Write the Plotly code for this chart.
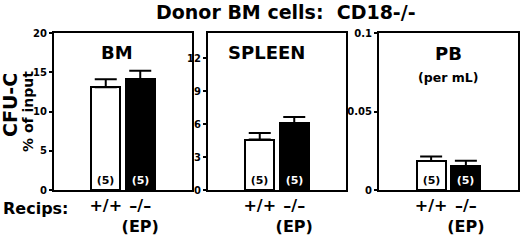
import plotly.graph_objects as go

# ---- data ----
recips = ["+/+", "-/-"]
panel_names = ["BM", "SPLEEN", "PB"]
bm_values = [13.1, 14.1]
bm_errors = [1.0, 1.1]
spleen_values = [4.6, 6.1]
spleen_errors = [0.6, 0.55]
pb_values = [0.0184, 0.0152]
pb_errors = [0.003, 0.0035]
n_labels = ["(5)", "(5)"]
bm_ticks = [0, 5, 10, 15, 20]
spleen_ticks = [0, 3, 6, 9, 12]
pb_ticks = [0, 0.05, 0.1]
pb_ticktext = ["0", "0.05", "0.1"]

W, H = 520, 241
FONT = "DejaVu Sans, Arial, sans-serif"

def fx(px):
    return px / W

def fy(py):
    return 1 - py / H

fig = go.Figure()

domains = [(fx(54), fx(192)), (fx(208), fx(346)), (fx(379), fx(518))]
ydom = [fy(190), fy(33)]
series = [(bm_values, bm_errors), (spleen_values, spleen_errors), (pb_values, pb_errors)]
yranges = [[0, 20], [0, 14.3], [0, 0.1]]
yticks = [(bm_ticks, [str(t) for t in bm_ticks]), (spleen_ticks, [str(t) for t in spleen_ticks]), (pb_ticks, pb_ticktext)]
xpos = [1.5, 2.5]

for i, (vals, errs) in enumerate(series):
    xa = "x" if i == 0 else f"x{i+1}"
    ya = "y" if i == 0 else f"y{i+1}"
    fig.add_trace(go.Bar(
        x=xpos, y=vals, width=0.84,
        marker=dict(color=["white", "black"], line=dict(color="black", width=2)),
        error_y=dict(type="data", array=errs, arrayminus=[0, 0], symmetric=False,
                     color="black", thickness=2, width=11),
        text=n_labels, textposition="inside", insidetextanchor="start",
        textfont=dict(family=FONT, size=11, color=["black", "white"], weight="bold"),
        textangle=0,
        xaxis=xa, yaxis=ya, showlegend=False, hoverinfo="skip",
    ))
    lay_x = "xaxis" if i == 0 else f"xaxis{i+1}"
    lay_y = "yaxis" if i == 0 else f"yaxis{i+1}"
    fig.layout[lay_x] = dict(
        domain=list(domains[i]), range=[0, 4], anchor=ya,
        showline=True, linecolor="black", linewidth=2, mirror=True,
        showgrid=False, zeroline=False, ticks="",
        tickvals=xpos, tickangle=0, automargin=False,
        ticktext=["<b>+/+</b>", "<b>\u2013/\u2013</b><br><b>(EP)</b>"],
        tickfont=dict(family=FONT, size=16, color="black"),
    )
    fig.layout[lay_y] = dict(
        domain=ydom, range=yranges[i], anchor=xa,
        showline=True, linecolor="black", linewidth=2, mirror=True,
        showgrid=False, zeroline=False, ticks="outside", ticklen=3, tickwidth=1.5,
        tickcolor="black", automargin=False,
        tickvals=yticks[i][0], ticktext=yticks[i][1],
        tickfont=dict(family=FONT, size=10, color="black", weight="bold"),
    )

annotations = [
    dict(text="Donor BM cells:\u00a0\u00a0CD18-/-", x=fx(286), y=fy(12), size=19),
    dict(text="BM", x=fx(117), y=fy(52), size=18),
    dict(text="SPLEEN", x=fx(266), y=fy(52), size=18),
    dict(text="PB", x=fx(448), y=fy(54), size=18),
    dict(text="(per mL)", x=fx(448), y=fy(78), size=12.5),
    dict(text="Recips:", x=fx(36), y=fy(208), size=16),
]
for a in annotations:
    fig.add_annotation(text=a["text"], x=a["x"], y=a["y"], xref="paper", yref="paper",
                       showarrow=False, xanchor="center", yanchor="middle",
                       font=dict(family=FONT, size=a["size"], color="black", weight="bold"))

fig.add_annotation(text="CFU-C", x=fx(10), y=fy(105), xref="paper", yref="paper",
                   showarrow=False, textangle=-90, xanchor="center", yanchor="middle",
                   font=dict(family=FONT, size=19, color="black", weight="bold"))
fig.add_annotation(text="% of input", x=fx(28), y=fy(112), xref="paper", yref="paper",
                   showarrow=False, textangle=-90, xanchor="center", yanchor="middle",
                   font=dict(family=FONT, size=14, color="black", weight="bold"))

fig.update_layout(
    width=W, height=H, margin=dict(l=0, r=0, t=0, b=0),
    paper_bgcolor="white", plot_bgcolor="white", bargap=0,
)

fig.write_html("out.html", config={"displayModeBar": False},
               post_script="document.body.style.margin='0';document.body.style.overflow='hidden';")
